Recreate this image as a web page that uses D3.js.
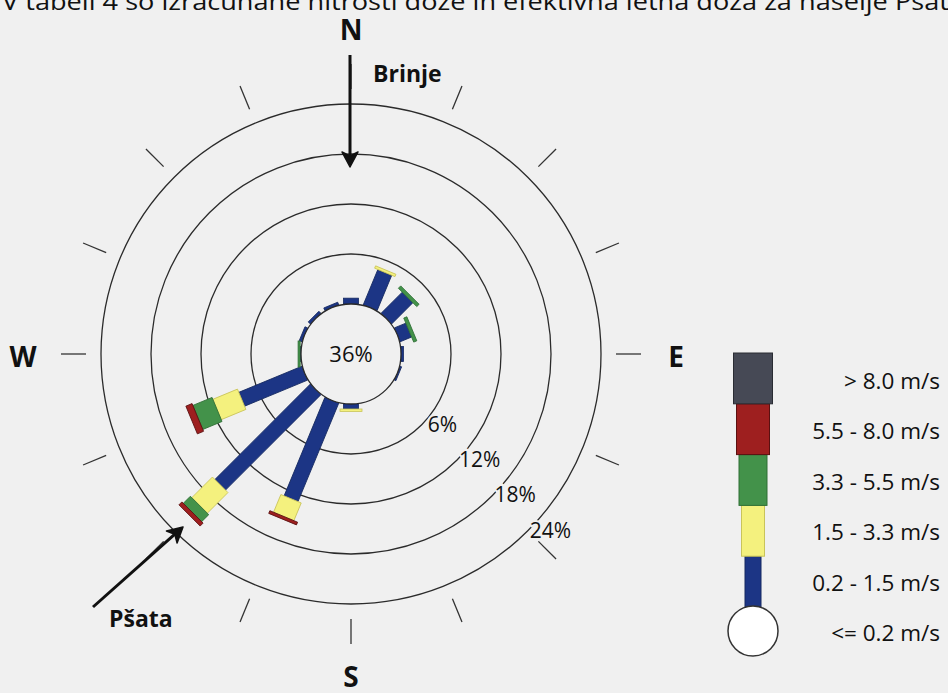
<!DOCTYPE html>
<html><head><meta charset="utf-8">
<script src="https://cdn.jsdelivr.net/npm/d3@7"></script>
<style>
html,body{margin:0;padding:0;background:#f0f0f0;}
svg{display:block;}
text{font-family:"Open Sans",sans-serif;fill:#111;}
</style></head>
<body>
<script>
// ---- data ----
const directions = ["N","NNE","NE","ENE","E","ESE","SE","SSE","S","SSW","SW","WSW","W","WNW","NW","NNW"];
const speedClasses = ["0.2 - 1.5 m/s","1.5 - 3.3 m/s","3.3 - 5.5 m/s","5.5 - 8.0 m/s","> 8.0 m/s"];
const calmLabel = "<= 0.2 m/s";
const calmPct = 36;
// percent frequency per direction, per speed class
const s02_15 = [0.7,4.6,3.6,1.5,0.3,0.2,0,0,0.6,12.8,16.2,8.2,0.1,0.35,0.35,0.35];
const s15_33 = [0,0.3,0,0,0,0,0,0,0.3,2.3,3.5,3.2,0,0,0,0];
const s33_55 = [0,0,0.4,0.4,0,0,0,0,0,0,1.2,2.5,0.25,0,0,0];
const s55_80 = [0,0,0,0,0,0,0,0,0,0.35,0.5,0.8,0,0,0,0];
const s80up  = [0,0,0,0,0,0,0,0,0,0,0,0,0,0,0,0];
const ringTicks = [6,12,18,24];
const titleText = "V tabeli 4 so izračunane hitrosti doze in efektivna letna doza za naselje Pšata";
const places = [{name:"Brinje"},{name:"Pšata"}];
const compass = ["N","E","S","W"];

// ---- build ----
const W = 948, H = 693, cx = 351, cy = 354;
const colors = ["#1c3585","#f4f17e","#43924a","#9e1f1f","#464955"];
const strokes = ["#142860","#c9c45a","#2f6f35","#5a1010","#2a2c33"];
const roseW = [15,22,26,30,34];
const legW  = [16,23,28,33,39];

const rows = directions.map((d,i)=>({dir:d, c0:s02_15[i], c1:s15_33[i], c2:s33_55[i], c3:s55_80[i], c4:s80up[i]}));
const keys = ["c0","c1","c2","c3","c4"];
const stacked = d3.stack().keys(keys)(rows);

const r = d3.scaleLinear().domain([0,24]).range([50,250]);
const ang = d3.scalePoint().domain(directions).range([0,337.5]);

const svg = d3.select("body").append("svg").attr("width",W).attr("height",H);
svg.append("rect").attr("width",W).attr("height",H).attr("fill","#f0f0f0");

// title line (cut at top, as in the source)
svg.append("text").attr("x",2).attr("y",10).attr("font-size",23)
  .attr("textLength",962).attr("lengthAdjust","spacingAndGlyphs").text(titleText);

const g = svg.append("g").attr("transform",`translate(${cx},${cy})`);

// rings
g.selectAll("circle.ring").data(ringTicks).join("circle").attr("class","ring")
  .attr("r",d=>r(d)).attr("fill","none").attr("stroke","#2b2b2b").attr("stroke-width",1.3);

// direction ticks
g.selectAll("line.tick").data(directions).join("line").attr("class","tick")
  .attr("x1",0).attr("x2",0).attr("y1",-(r(24)+15)).attr("y2",-(r(24)+40))
  .attr("stroke","#333").attr("stroke-width",1.3)
  .attr("transform",d=>`rotate(${ang(d)})`);

// bars
stacked.forEach((series,k)=>{
  g.selectAll(null).data(series.filter(p=>p[1]-p[0]>0)).join("rect")
    .attr("x",-roseW[k]/2).attr("width",roseW[k])
    .attr("y",p=>-r(p[1])).attr("height",p=>r(p[1])-r(p[0]))
    .attr("fill",colors[k]).attr("stroke",strokes[k]).attr("stroke-width",0.8)
    .attr("transform",p=>`rotate(${ang(p.data.dir)})`);
});

// inner calm circle
g.append("circle").attr("r",r(0)).attr("fill","#f0f0f0").attr("stroke","#2b2b2b").attr("stroke-width",1.3);
g.append("text").attr("text-anchor","middle").attr("y",8).attr("font-size",22).text(calmPct+"%");

// ring labels
g.selectAll("text.rl").data(ringTicks).join("text").attr("class","rl")
  .attr("x",d=>r(d)*Math.sin(135*Math.PI/180)+(d===6?6:2))
  .attr("y",d=>-r(d)*Math.cos(135*Math.PI/180)+7)
  .attr("font-size",21)
  .attr("stroke","#f0f0f0").attr("stroke-width",4).attr("paint-order","stroke")
  .text(d=>d+"%");

// compass letters
const compassPos = {N:[0,-314],E:[325,13],S:[0,333],W:[-328,13]};
g.selectAll("text.cmp").data(compass).join("text").attr("class","cmp")
  .attr("text-anchor","middle").attr("font-weight",700).attr("font-size",28)
  .attr("x",d=>compassPos[d][0]).attr("y",d=>compassPos[d][1]).text(d=>d);

// arrows
function arrow(x1,y1,x2,y2){
  const a = Math.atan2(y2-y1,x2-x1)*180/Math.PI;
  const L = Math.hypot(x2-x1,y2-y1);
  const ag = svg.append("g").attr("transform",`translate(${x1},${y1}) rotate(${a})`);
  ag.append("line").attr("x1",0).attr("y1",0).attr("x2",L-6).attr("y2",0)
    .attr("stroke","#111").attr("stroke-width",3);
  ag.append("path").attr("d",`M${L},0 L${L-15},-8 L${L-11},0 L${L-15},8 Z`)
    .attr("fill","#111").attr("stroke","#111").attr("stroke-width",1.5).attr("stroke-linejoin","round");
}
arrow(350,55,350,167);
arrow(93,607,183,527);
svg.append("text").attr("x",373).attr("y",82).attr("font-size",23).attr("font-weight",700).text(places[0].name);
svg.append("text").attr("x",109).attr("y",627).attr("font-size",23).attr("font-weight",700).text(places[1].name);

// legend
const lx = 753;
const ly = d3.scaleBand().domain(d3.range(5).reverse()).range([353,607]);
const leg = svg.append("g");
d3.range(5).forEach(k=>{
  leg.append("rect").attr("x",lx-legW[k]/2).attr("width",legW[k])
    .attr("y",ly(k)).attr("height",ly.bandwidth())
    .attr("fill",colors[k]).attr("stroke",strokes[k]).attr("stroke-width",1);
});
leg.append("circle").attr("cx",lx).attr("cy",631).attr("r",25).attr("fill","#fff").attr("stroke","#333").attr("stroke-width",1.5);
const labY = d3.scalePoint().domain(d3.range(6)).range([381,633]);
const legLabels = speedClasses.slice().reverse().concat([calmLabel]);
leg.selectAll("text").data(legLabels).join("text")
  .attr("x",940).attr("text-anchor","end").attr("font-size",22.5)
  .attr("y",(d,i)=>labY(i)+8).text(d=>d);
</script>
</body></html>
